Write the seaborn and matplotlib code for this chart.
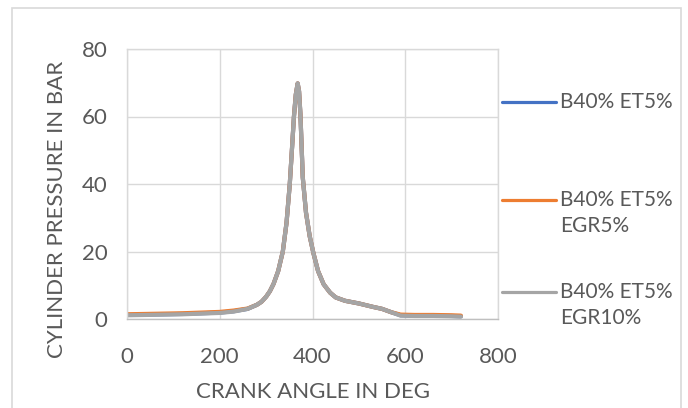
import matplotlib
matplotlib.use("Agg")
import matplotlib.pyplot as plt
import seaborn as sns
import pandas as pd
from matplotlib.lines import Line2D
from matplotlib.patches import Rectangle

# Crank angle (deg) and cylinder pressure (bar) for the three blends
crank_angle = [0, 40, 80, 120, 160, 200, 230, 260, 280, 290, 300, 308, 316, 326,
               336, 344, 351, 356, 360, 364, 368, 371, 374, 379, 386, 394,
               402, 412, 424, 438, 450, 470, 500, 530, 550, 570, 590, 620,
               660, 700, 720]

p_b40_et5 = [1.2, 1.3, 1.4, 1.5, 1.7, 1.9, 2.3, 3.0, 4.2, 5.1, 6.6, 8.2, 10.4, 14.2,
             20.0, 28.5, 40.0, 51.0, 60.0, 66.5, 69.8, 67.5, 60.5, 42.0, 31.5, 24.5,
             19.5, 14.2, 10.3, 7.8, 6.4, 5.4, 4.6, 3.6, 3.0, 2.0, 1.1, 1.0,
             1.0, 0.9, 0.8]

p_b40_et5_egr5 = [1.4, 1.5, 1.6, 1.7, 1.9, 2.1, 2.5, 3.1, 4.2, 5.1, 6.6, 8.2, 10.4, 14.2,
                  20.0, 28.5, 40.0, 51.0, 60.0, 66.5, 69.8, 67.5, 60.5, 42.0, 31.5, 24.5,
                  19.5, 14.2, 10.3, 7.8, 6.4, 5.4, 4.6, 3.6, 3.0, 2.0, 1.3, 1.2,
                  1.2, 1.1, 1.0]

p_b40_et5_egr10 = [1.1, 1.2, 1.3, 1.4, 1.6, 1.8, 2.2, 3.0, 4.2, 5.1, 6.6, 8.2, 10.4, 14.2,
                   20.0, 28.5, 40.0, 51.0, 60.0, 66.5, 69.8, 67.5, 60.5, 42.0, 31.5, 24.5,
                   19.5, 14.2, 10.3, 7.8, 6.4, 5.4, 4.6, 3.6, 3.0, 2.0, 1.0, 0.9,
                   0.9, 0.8, 0.7]

series_names = ["B40% ET5%", "B40% ET5%\nEGR5%", "B40% ET5%\nEGR10%"]
series_colors = ["#4472C4", "#ED7D31", "#A5A5A5"]

x_ticks = [0, 200, 400, 600, 800]
y_ticks = [0, 20, 40, 60, 80]

df = pd.concat([
    pd.DataFrame({"angle": crank_angle, "pressure": vals, "blend": name})
    for name, vals in zip(series_names, [p_b40_et5, p_b40_et5_egr5, p_b40_et5_egr10])
], ignore_index=True)

sns.set_theme(style="white")
plt.rcParams["font.family"] = ["Lato", "DejaVu Sans"]
text_color = "#595959"
grid_color = "#D9D9D9"

fig = plt.figure(figsize=(6.88, 4.08), dpi=100)
ax = fig.add_axes([127 / 688, 1 - 319 / 408, 371 / 688, 270 / 408])

sns.lineplot(data=df, x="angle", y="pressure", hue="blend",
             hue_order=series_names, palette=series_colors,
             linewidth=3.0, legend=False, ax=ax, sort=False)

ax.set_xlim(0, 800)
ax.set_ylim(0, 80)
ax.set_xticks(x_ticks)
ax.set_yticks(y_ticks)
ax.grid(True, color=grid_color, linewidth=1.0)
ax.set_axisbelow(True)
for side in ["top", "right", "left"]:
    ax.spines[side].set_color(grid_color)
    ax.spines[side].set_linewidth(1.0)
ax.spines["bottom"].set_color("#BFBFBF")
ax.spines["bottom"].set_linewidth(1.0)
ax.tick_params(axis="both", length=0, labelsize=16, labelcolor=text_color)
ax.tick_params(axis="x", pad=20)
ax.tick_params(axis="y", pad=14)

ax.set_xlabel("CRANK ANGLE IN DEG", fontsize=16, color=text_color)
ax.set_ylabel("CYLINDER PRESSURE IN BAR", fontsize=16, color=text_color)
# label centres in figure pixels: x label at (313, 392), y label at (57, 209)
ax.xaxis.set_label_coords((313 - 127) / 371, (319 - 392) / 270)
ax.yaxis.set_label_coords((57 - 127) / 371, (319 - 209) / 270)
ax.xaxis.label.set_va("center")
ax.yaxis.label.set_va("center")

# Legend drawn at the right, with each line aligned to the first text row
legend_rows = [102, 200, 292]
for name, color, ypix in zip(series_names, series_colors, legend_rows):
    yf = 1 - ypix / 408
    fig.add_artist(Line2D([502 / 688, 556 / 688], [yf, yf], color=color,
                          linewidth=2.3, transform=fig.transFigure))
    fig.text(560 / 688, yf + 10 / 408, name, fontsize=15, color=text_color,
             va="top", ha="left", linespacing=1.35,
             transform=fig.transFigure)

# Chart area frame
fig.add_artist(Rectangle((12 / 688, -0.02), 669 / 688, 1 - 8 / 408 + 0.02,
                         transform=fig.transFigure, fill=False,
                         edgecolor=grid_color, linewidth=1.2))

fig.savefig("out.png", dpi=100)
